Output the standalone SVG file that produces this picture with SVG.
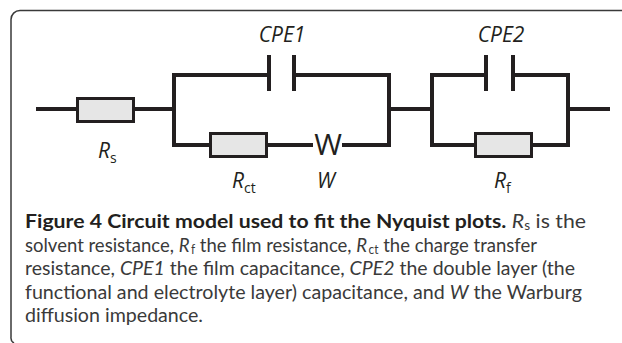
<svg xmlns="http://www.w3.org/2000/svg" width="622" height="343" viewBox="0 0 622 343">
  <style>
    .wire { fill: none; stroke: #231f20; stroke-width: 4; stroke-linecap: butt; stroke-linejoin: miter; }
    .res { fill: #e6e6e6; stroke: #231f20; stroke-width: 3; }
    .plate { stroke: #231f20; stroke-width: 4; }
    .lbl { font-family: "Open Sans", "Liberation Sans", sans-serif; font-style: italic; font-size: 21px; fill: #231f20; }
    .sub { font-style: normal; font-size: 14px; }
    .cap { font-family: Lato, "Open Sans", "Liberation Sans", sans-serif; font-size: 19.5px; fill: #3a3a3a; }
    .b { font-weight: bold; fill: #231f20; }
    .i { font-style: italic; }
    .frame { fill: none; stroke: #3a3a3a; stroke-width: 1.5; }
  </style>
  <rect width="622" height="343" fill="#ffffff"/>
  <path class="frame" d="M 622 10.5 L 20 10.5 A 9 9 0 0 0 11 19.5 L 11 337 A 6 6 0 0 0 14 343"/>

  <g id="connectors">
    <path class="wire" d="M 36 109 H 78"/>
    <path class="wire" d="M 133 109 H 174"/>
    <path class="wire" d="M 174 75 V 147 M 172 75 H 269 M 294 75 H 391 M 389 73 V 147 M 172 145 H 211 M 266 145 H 313 M 342 145 H 391"/>
    <path class="wire" d="M 389 109 H 432"/>
    <path class="wire" d="M 432 75 V 147 M 430 75 H 486 M 513 75 H 570 M 568 73 V 147 M 430 145 H 476 M 531 145 H 570"/>
    <path class="wire" d="M 568 109 H 610"/>
  </g>

  <g id="Rs">
    <rect class="res" x="77.5" y="98.5" width="56" height="23"/>
    <text class="lbl" x="98" y="158">R<tspan class="sub" dy="5">s</tspan></text>
  </g>

  <g id="CPE1">
    <line class="plate" x1="269" y1="55" x2="269" y2="91"/>
    <line class="plate" x1="294" y1="55" x2="294" y2="91"/>
    <text class="lbl" x="282" y="42" text-anchor="middle">CPE1</text>
  </g>

  <g id="Rct">
    <rect class="res" x="210.5" y="133.5" width="56" height="23"/>
    <text class="lbl" x="232" y="188">R<tspan class="sub" dy="5">ct</tspan></text>
  </g>

  <g id="W">
    <text x="328" y="155" text-anchor="middle" font-family="Open Sans, Liberation Sans, sans-serif" font-size="30" fill="#231f20">W</text>
    <text class="lbl" x="326" y="188" text-anchor="middle">W</text>
  </g>

  <g id="CPE2">
    <line class="plate" x1="486" y1="55" x2="486" y2="91"/>
    <line class="plate" x1="513" y1="55" x2="513" y2="91"/>
    <text class="lbl" x="501" y="42" text-anchor="middle">CPE2</text>
  </g>

  <g id="Rf">
    <rect class="res" x="475.5" y="133.5" width="56" height="23"/>
    <text class="lbl" x="494" y="188">R<tspan class="sub" dy="5">f</tspan></text>
  </g>

  <g id="caption" class="cap">
    <text x="25" y="228" textLength="561" lengthAdjust="spacingAndGlyphs"><tspan class="b">Figure 4 Circuit model used to fit the Nyquist plots.</tspan> <tspan class="i">R</tspan><tspan font-size="12.5" dy="2">s</tspan><tspan dy="-2"> is the</tspan></text>
    <text x="25" y="251.5" textLength="512" lengthAdjust="spacingAndGlyphs">solvent resistance, <tspan class="i">R</tspan><tspan font-size="12.5" dx="1.5" dy="2">f</tspan><tspan dy="-2"> the film resistance, </tspan><tspan class="i">R</tspan><tspan font-size="12.5" dx="1.5" dy="2">ct</tspan><tspan dy="-2"> the charge transfer</tspan></text>
    <text x="25" y="275" textLength="550" lengthAdjust="spacingAndGlyphs">resistance, <tspan class="i">CPE1</tspan> the film capacitance, <tspan class="i">CPE2</tspan> the double layer (the</text>
    <text x="25" y="298.5" textLength="557" lengthAdjust="spacingAndGlyphs">functional and electrolyte layer) capacitance, and <tspan class="i">W</tspan> the Warburg</text>
    <text x="25" y="322" textLength="178" lengthAdjust="spacingAndGlyphs">diffusion impedance.</text>
  </g>
</svg>
